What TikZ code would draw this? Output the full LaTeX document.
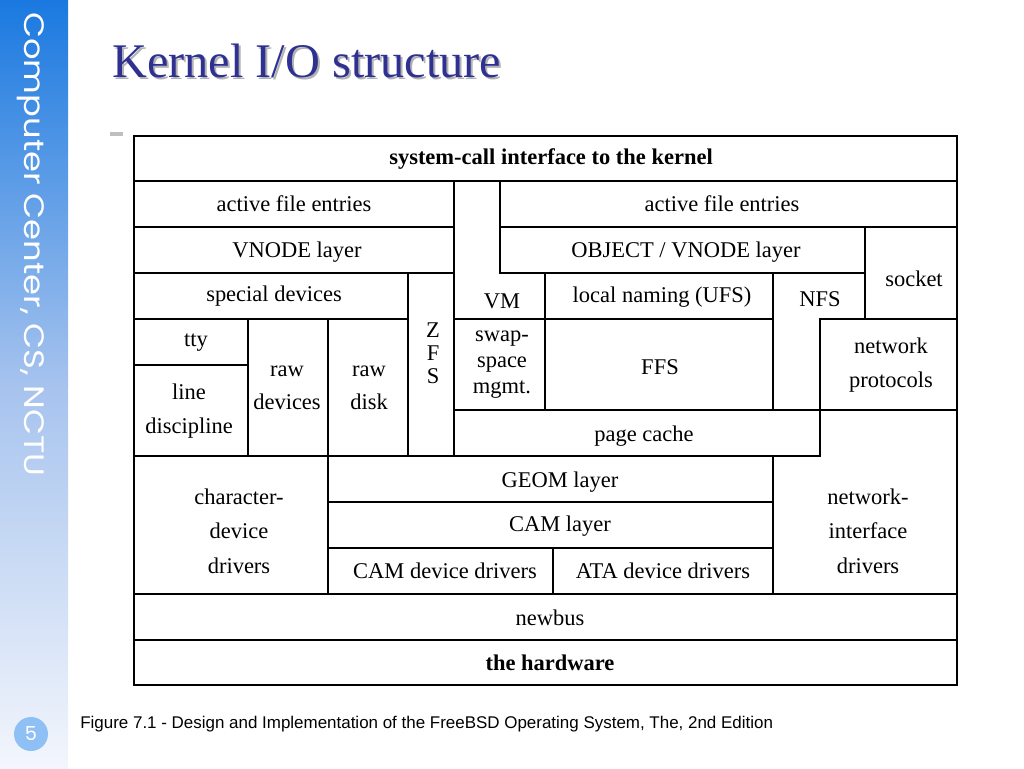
\documentclass[tikz,border=0pt]{standalone}
\usepackage{fontspec}
\setmainfont{Liberation Serif}
\newfontfamily\sidefont{Poppins}
\newfontfamily\capfont{Liberation Sans}
\usepackage{xcolor}
\usetikzlibrary{positioning}
\definecolor{sideblue}{HTML}{1A79E0}
\definecolor{sidemid}{HTML}{A6C3EE}
\definecolor{sidelow}{HTML}{F3F6FC}
\definecolor{titleblue}{HTML}{2E3192}
\definecolor{pageblue}{HTML}{8EC0F5}

\begin{document}
\begin{tikzpicture}[x=0.02cm,y=-0.02cm,
    box/.style={draw, line width=1pt},
    lbl/.style={font=\fontsize{12.8}{15}\selectfont, inner sep=0pt},
    lblb/.style={font=\fontsize{12.8}{15}\selectfont\bfseries, inner sep=0pt}]

\useasboundingbox (0,0) rectangle (1024,768);

% side bar
\shade[top color=sideblue, bottom color=sidemid] (0,0) rectangle (68,385);
\shade[top color=sidemid, bottom color=sidelow] (0,384) rectangle (68,768);
\node[white, rotate=-90, anchor=west, font=\sidefont\fontsize{16}{17}\selectfont, inner sep=0pt] (side) at (31,12) {\scalebox{1.2}[1]{Computer Center, CS, NCTU}};
\node[circle, fill=pageblue, minimum size=0.68cm, inner sep=0pt, text=white, font=\sidefont\fontsize{11}{12}\selectfont] (page) at (31,734) {5};

% title
\node[anchor=base west, text=black!30, font=\fontsize{27.5}{30}\selectfont, inner sep=0pt] (titleshadow) at (114,79) {Kernel I/O structure};
\node[anchor=base west, text=titleblue, font=\fontsize{27.5}{30}\selectfont, inner sep=0pt] (title) at (112,77) {Kernel I/O structure};
\fill[black!25] (110,132) rectangle (123,136);

% boxes
\draw[box] (134,136) rectangle (957,181);
\draw[box] (134,181) rectangle (454,227);
\draw[box] (500,181) rectangle (957,227);
\draw[box] (134,227) rectangle (454,273);
\draw[box] (500,227) rectangle (865,273);
\draw[box] (865,227) rectangle (957,319);
\draw[box] (134,273) rectangle (408,319);
\draw[box] (408,273) rectangle (454,456);
\draw[box] (454,181) -- (500,181) -- (500,273) -- (545,273) -- (545,319) -- (454,319) -- cycle;
\draw[box] (545,273) rectangle (773,319);
\draw[box] (773,273) -- (865,273) -- (865,319) -- (820,319) -- (820,410) -- (773,410) -- cycle;
\draw[box] (134,319) rectangle (248,365);
\draw[box] (134,365) rectangle (248,456);
\draw[box] (248,319) rectangle (328,456);
\draw[box] (328,319) rectangle (408,456);
\draw[box] (454,319) rectangle (545,410);
\draw[box] (545,319) rectangle (773,410);
\draw[box] (820,319) rectangle (957,410);
\draw[box] (454,410) rectangle (820,456);
\draw[box] (820,410) -- (957,410) -- (957,594) -- (773,594) -- (773,456) -- (820,456) -- cycle;
\draw[box] (134,456) rectangle (328,594);
\draw[box] (328,456) rectangle (773,502);
\draw[box] (328,502) rectangle (773,548);
\draw[box] (328,548) rectangle (553,594);
\draw[box] (553,548) rectangle (773,594);
\draw[box] (134,594) rectangle (957,640);
\draw[box] (134,640) rectangle (957,685);

% labels
\node[lblb] (syscall) at (551,159) {system-call interface to the kernel};
\node[lbl] (afeA) at (294,204) {active file entries};
\node[lbl] (afeB) at (722,204) {active file entries};
\node[lbl] (vnode) at (297,252) {VNODE layer};
\node[lbl] (objvnode) at (686,252) {OBJECT / VNODE layer};
\node[lbl] (socket) at (914,279) {socket};
\node[lbl] (special) at (274,296) {special devices};
\node[lbl, align=center, font=\fontsize{12.8}{13}\selectfont] (zfs) at (433,353) {Z\\F\\S};
\node[lbl] (vm) at (502,301) {VM};
\node[lbl] (localnaming) at (662,297) {local naming (UFS)};
\node[lbl] (nfs) at (820,299) {NFS};
\node[lbl] (tty) at (196,343) {tty};
\node[lbl, align=center, font=\fontsize{12.8}{19.2}\selectfont] (linedisc) at (189,411) {line\\discipline};
\node[lbl, align=center, font=\fontsize{12.8}{18.7}\selectfont] (rawdev) at (287,388) {raw\\devices};
\node[lbl, align=center, font=\fontsize{12.8}{18.7}\selectfont] (rawdisk) at (369,388) {raw\\disk};
\node[lbl, align=center, font=\fontsize{12.8}{14.8}\selectfont] (swap) at (502,365) {swap-\\space\\mgmt.};
\node[lbl] (ffs) at (660,367) {FFS};
\node[lbl, align=center, font=\fontsize{12.8}{19.8}\selectfont] (netproto) at (891,365) {network\\protocols};
\node[lbl] (pagecache) at (644,436) {page cache};
\node[lbl, align=center, font=\fontsize{12.8}{19.6}\selectfont] (netif) at (868,531) {network-\\interface\\drivers};
\node[lbl, align=center, font=\fontsize{12.8}{19.6}\selectfont] (chardev) at (239,531) {character-\\device\\drivers};
\node[lbl] (geom) at (560,482) {GEOM layer};
\node[lbl] (cam) at (560,526) {CAM layer};
\node[lbl] (camdd) at (445,571) {CAM device drivers};
\node[lbl] (atadd) at (663,571) {ATA device drivers};
\node[lbl] (newbus) at (550,618) {newbus};
\node[lblb] (hardware) at (550,663) {the hardware};

% caption
\node[anchor=west, inner sep=0pt, font=\capfont\fontsize{9.65}{11}\selectfont] (caption) at (80,724) {Figure 7.1 - Design and Implementation of the FreeBSD Operating System, The, 2nd Edition};
\end{tikzpicture}
\end{document}
